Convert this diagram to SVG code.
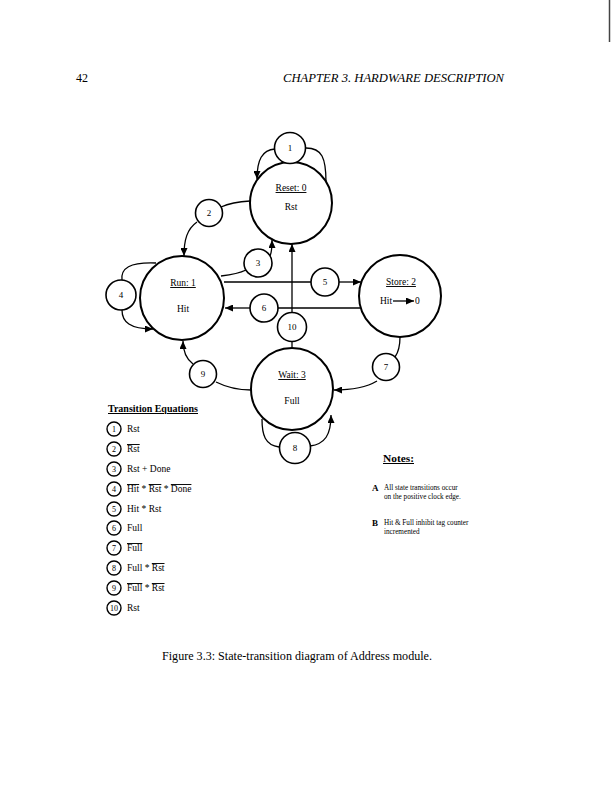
<svg xmlns="http://www.w3.org/2000/svg" width="612" height="791" viewBox="0 0 612 791">
<defs>
<style>
text{font-family:"Liberation Serif","Times New Roman",serif;fill:#000}
.state{fill:#fff;stroke:#000;stroke-width:2}
.tr{fill:#fff;stroke:#000;stroke-width:1.6}
.eqc{fill:#fff;stroke:#000;stroke-width:1.4}
.conn{fill:none;stroke:#000;stroke-width:1.3}
.arr{marker-end:url(#ah)}
.lbl{font-size:9.5px;text-anchor:middle}
.num{font-size:9px;text-anchor:middle}
.eqn{font-size:8px;text-anchor:middle}
.eq{font-size:9.5px}
.ul{text-decoration:underline}
.ol{text-decoration:overline}
.note{font-size:7.2px}
</style>
<marker id="ah" markerWidth="8" markerHeight="7" refX="8" refY="3.5" orient="auto" markerUnits="userSpaceOnUse">
<path d="M0,0 L8,3.5 L0,7 z" fill="#000"/>
</marker>
</defs>
<rect width="612" height="791" fill="#fff"/>
<line x1="609.5" y1="0" x2="609.5" y2="42" stroke="#444" stroke-width="1.5"/>
<text x="76" y="82" font-size="12">42</text>
<text x="283" y="82" font-size="12" font-style="italic" textLength="221" lengthAdjust="spacingAndGlyphs">CHAPTER 3.  HARDWARE DESCRIPTION</text>

<g id="connectors">
<path class="conn arr" d="M275,149 C262,150 257,160 257,179"/>
<path class="conn" d="M306,148 C322,148 326,158 326,182"/>
<path class="conn" d="M221,207 Q232,202 250,201"/>
<path class="conn arr" d="M197,222 C187,229 184,240 184,256"/>
<path class="conn" d="M221,276 Q238,274 246,270"/>
<path class="conn arr" d="M270,256 Q272,252 272,240"/>
<path class="conn" d="M122,281 C120,268 130,262 156,263"/>
<path class="conn arr" d="M122,310 C122,322 130,329 153,329"/>
<path class="conn" d="M224,282 L311,282"/>
<path class="conn arr" d="M339,282 L361,282"/>
<path class="conn" d="M360,308 L278,308"/>
<path class="conn arr" d="M250,308 L225,308"/>
<path class="conn arr" d="M292,313 L292,244"/>
<path class="conn" d="M292,341 L292,348"/>
<path class="conn" d="M400,337 Q400,350 395,357"/>
<path class="conn arr" d="M377,381 Q362,390 334,390"/>
<path class="conn" d="M216,382 Q232,390 251,390"/>
<path class="conn arr" d="M193,364 C185,358 183,350 183,341"/>
<path class="conn" d="M279,447 C265,445 262,435 262,419"/>
<path class="conn arr" d="M310,446 C325,444 331,435 331,415"/>
</g>

<g id="state-reset">
<circle class="state" cx="291" cy="203" r="41"/>
<text class="lbl ul" x="291" y="191">Reset: 0</text>
<text class="lbl" x="291" y="210">Rst</text>
</g>
<g id="state-run">
<circle class="state" cx="182" cy="298" r="42"/>
<text class="lbl ul" x="183" y="286">Run: 1</text>
<text class="lbl" x="183" y="312">Hit</text>
</g>
<g id="state-store">
<circle class="state" cx="400" cy="296" r="41"/>
<text class="lbl ul" x="401" y="285">Store: 2</text>
<text class="lbl" x="380" y="304" style="text-anchor:start">Hit</text>
<path class="conn arr" d="M393,301 L414,301" stroke-width="1"/>
<text class="lbl" x="415" y="304" style="text-anchor:start">0</text>
</g>
<g id="state-wait">
<circle class="state" cx="292" cy="389" r="41"/>
<text class="lbl ul" x="292" y="378">Wait: 3</text>
<text class="lbl" x="292" y="404">Full</text>
</g>

<g id="t1"><circle class="tr" cx="290" cy="148" r="15.5"/><text class="num" x="290" y="151">1</text></g>
<g id="t2"><circle class="tr" cx="209" cy="213" r="13.5"/><text class="num" x="209" y="216">2</text></g>
<g id="t3"><circle class="tr" cx="258" cy="263" r="14"/><text class="num" x="258" y="266">3</text></g>
<g id="t4"><circle class="tr" cx="121" cy="295" r="15"/><text class="num" x="121" y="298">4</text></g>
<g id="t5"><circle class="tr" cx="325" cy="282" r="14"/><text class="num" x="325" y="285">5</text></g>
<g id="t6"><circle class="tr" cx="264" cy="308" r="14"/><text class="num" x="264" y="311">6</text></g>
<g id="t7"><circle class="tr" cx="386" cy="367" r="13.5"/><text class="num" x="386" y="370">7</text></g>
<g id="t8"><circle class="tr" cx="295" cy="448" r="15.5"/><text class="num" x="295" y="451">8</text></g>
<g id="t9"><circle class="tr" cx="203" cy="374" r="13.5"/><text class="num" x="203" y="377">9</text></g>
<g id="t10"><circle class="tr" cx="292" cy="327" r="14.5"/><text class="num" x="292" y="330">10</text></g>

<g id="equations">
<text x="108" y="412" font-size="10" font-weight="bold" class="ul" textLength="90" lengthAdjust="spacingAndGlyphs">Transition Equations</text>
<circle class="eqc" cx="114" cy="429" r="7"/><text class="eqn" x="114" y="432">1</text>
<text class="eq" x="127" y="432">Rst</text>
<circle class="eqc" cx="114" cy="449" r="7"/><text class="eqn" x="114" y="452">2</text>
<text class="eq" x="127" y="452"><tspan class="ol">Rst</tspan></text>
<circle class="eqc" cx="114" cy="469" r="7"/><text class="eqn" x="114" y="472">3</text>
<text class="eq" x="127" y="472">Rst + Done</text>
<circle class="eqc" cx="114" cy="489" r="7"/><text class="eqn" x="114" y="492">4</text>
<text class="eq" x="127" y="492"><tspan class="ol">Hit</tspan> * <tspan class="ol">Rst</tspan> * <tspan class="ol">Done</tspan></text>
<circle class="eqc" cx="114" cy="509" r="7"/><text class="eqn" x="114" y="512">5</text>
<text class="eq" x="127" y="512">Hit * Rst</text>
<circle class="eqc" cx="114" cy="528" r="7"/><text class="eqn" x="114" y="531">6</text>
<text class="eq" x="127" y="531">Full</text>
<circle class="eqc" cx="114" cy="548" r="7"/><text class="eqn" x="114" y="551">7</text>
<text class="eq" x="127" y="551"><tspan class="ol">Full</tspan></text>
<circle class="eqc" cx="114" cy="568" r="7"/><text class="eqn" x="114" y="571">8</text>
<text class="eq" x="127" y="571">Full * <tspan class="ol">Rst</tspan></text>
<circle class="eqc" cx="114" cy="588" r="7"/><text class="eqn" x="114" y="591">9</text>
<text class="eq" x="127" y="591"><tspan class="ol">Full</tspan> * <tspan class="ol">Rst</tspan></text>
<circle class="eqc" cx="114" cy="608" r="7"/><text class="eqn" x="114" y="611" font-size="7.5">10</text>
<text class="eq" x="127" y="611">Rst</text>
</g>

<g id="notes">
<text x="383" y="462" font-size="10" font-weight="bold" class="ul" textLength="31" lengthAdjust="spacingAndGlyphs">Notes:</text>
<text x="372" y="491" font-size="9" font-weight="bold">A</text>
<text class="note" x="384" y="490">All state transitions occur</text>
<text class="note" x="384" y="499">on the positive clock edge.</text>
<text x="372" y="526" font-size="9" font-weight="bold">B</text>
<text class="note" x="384" y="525">Hit &amp; Full inhibit tag counter</text>
<text class="note" x="384" y="534">incremented</text>
</g>

<text x="162" y="660" font-size="12" textLength="270" lengthAdjust="spacingAndGlyphs">Figure 3.3: State-transition diagram of Address module.</text>
</svg>
